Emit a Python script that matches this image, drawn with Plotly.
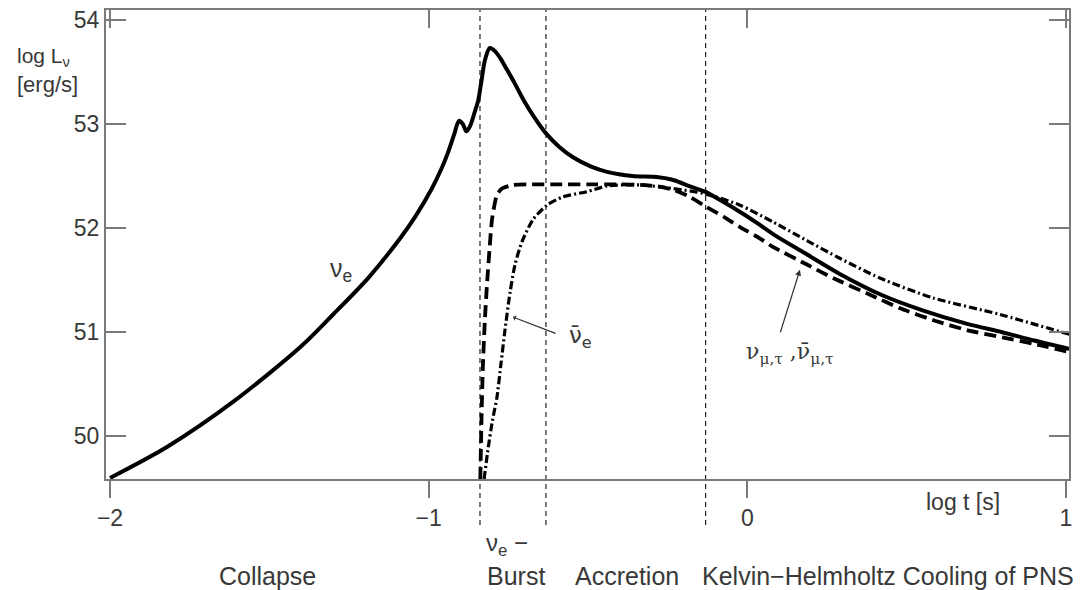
import plotly.graph_objects as go

# ---- data (log t [s], log L [erg/s]) ----
t_nue = [-2.0, -1.82, -1.61, -1.40, -1.30, -1.19, -1.09, -1.04, -0.99, -0.96, -0.94, -0.92,
         -0.905, -0.893, -0.882, -0.87, -0.855, -0.845, -0.835, -0.823, -0.808, -0.792,
         -0.775, -0.754, -0.73, -0.704, -0.67, -0.632, -0.59, -0.547, -0.49, -0.44, -0.36,
         -0.284, -0.23, -0.18, -0.133, -0.08, -0.02, 0.03, 0.087, 0.18, 0.29, 0.42, 0.55,
         0.69, 0.80, 0.90, 1.01]
L_nue = [49.60, 49.90, 50.34, 50.865, 51.17, 51.52, 51.90, 52.12, 52.38, 52.57, 52.72, 52.90,
         53.03, 53.00, 52.93, 52.98, 53.12, 53.22, 53.40, 53.62, 53.73, 53.70,
         53.63, 53.52, 53.39, 53.24, 53.07, 52.91, 52.78, 52.68, 52.59, 52.54, 52.50,
         52.49, 52.46, 52.40, 52.35, 52.26, 52.15, 52.05, 51.93, 51.76, 51.56, 51.36, 51.21,
         51.08, 51.00, 50.92, 50.84]

t_nuebar = [-0.838, -0.834, -0.830, -0.824, -0.817, -0.809, -0.801, -0.786, -0.77, -0.735,
            -0.68, -0.6, -0.5, -0.4, -0.337, -0.28, -0.233, -0.18, -0.127, -0.075, -0.023,
            0.04, 0.08, 0.187, 0.269, 0.385, 0.479, 0.589, 0.689, 0.80, 0.896, 1.01]
L_nuebar = [49.59, 50.20, 50.66, 51.10, 51.46, 51.80, 52.09, 52.32, 52.38, 52.415,
            52.42, 52.42, 52.42, 52.42, 52.415, 52.40, 52.37, 52.30, 52.20, 52.11, 52.01,
            51.90, 51.82, 51.65, 51.52, 51.36, 51.23, 51.11, 51.02, 50.95, 50.89, 50.81]

t_numu = [-0.826, -0.815, -0.80, -0.786, -0.773, -0.761, -0.745, -0.729, -0.707, -0.673,
          -0.629, -0.579, -0.503, -0.44, -0.337, -0.233, -0.133, -0.023, 0.08, 0.187, 0.29,
          0.416, 0.582, 0.793, 1.01]
L_numu = [49.59, 49.85, 50.15, 50.37, 50.70, 51.01, 51.375, 51.65, 51.87, 52.08,
          52.22, 52.30, 52.35, 52.405, 52.415, 52.38, 52.33, 52.22, 52.06, 51.88, 51.71,
          51.52, 51.33, 51.17, 50.98]

phase_bounds = [-0.839, -0.632, -0.131]
x_ticks = [-2, -1, 0, 1]
x_ticktext = ["\u22122", "\u22121", "0", "1"]
y_ticks = [50, 51, 52, 53, 54]
phase_names = ["Collapse", "Burst", "Accretion", "Kelvin\u2212Helmholtz Cooling of PNS"]
phase_label_x = [0.168, 0.4258, 0.5415, 0.812]

SANS = "Liberation Sans, Arial, sans-serif"
DSANS = "DejaVu Sans, sans-serif"
DSERIF = "DejaVu Serif, serif"
TXT = "#383838"
AX = "#7a7a7a"

fig = go.Figure()
fig.add_trace(go.Scatter(x=t_nue, y=L_nue, mode="lines",
                         line=dict(color="black", width=4.0, shape="spline", smoothing=0.8),
                         showlegend=False, hoverinfo="skip"))
fig.add_trace(go.Scatter(x=t_nuebar, y=L_nuebar, mode="lines",
                         line=dict(color="black", width=3.8, dash="12px,6px",
                                   shape="spline", smoothing=0.5),
                         showlegend=False, hoverinfo="skip"))
fig.add_trace(go.Scatter(x=t_numu, y=L_numu, mode="lines",
                         line=dict(color="black", width=3.2, dash="8px,3px,2px,3px",
                                   shape="spline", smoothing=0.7),
                         showlegend=False, hoverinfo="skip"))

for xb in phase_bounds:
    fig.add_shape(type="line", xref="x", yref="paper", x0=xb, x1=xb, y0=-0.098, y1=1,
                  line=dict(color="#222", width=1.2, dash="5px,4px"), layer="below")

ann = []
ann.append(dict(text="log L<sub>\u03bd</sub>", xref="paper", yref="paper", x=-0.0945, y=0.899,
                xanchor="left", yanchor="middle", showarrow=False,
                font=dict(family=SANS, size=21, color=TXT)))
ann.append(dict(text="[erg/s]", xref="paper", yref="paper", x=-0.0945, y=0.842,
                xanchor="left", yanchor="middle", showarrow=False,
                font=dict(family=SANS, size=22, color=TXT)))
ann.append(dict(text="log t [s]", xref="paper", yref="paper", x=0.89, y=-0.0487,
                xanchor="center", yanchor="middle", showarrow=False,
                font=dict(family=SANS, size=23, color=TXT)))
ann.append(dict(text="\u03bd<sub>e</sub>", xref="x", yref="y", x=-1.275, y=51.60,
                xanchor="center", yanchor="middle", showarrow=False,
                font=dict(family=SANS, size=25, color=TXT)))
ann.append(dict(text="\u03bd\u0304<sub>e</sub>", xref="x", yref="y", x=-0.525, y=50.95,
                xanchor="center", yanchor="middle", showarrow=False,
                font=dict(family=DSANS, size=23, color=TXT)))
ann.append(dict(text="", xref="x", yref="y", x=-0.7355, y=51.146, ax=44, ay=17,
                showarrow=True, arrowhead=1, arrowsize=0.8, arrowwidth=1.2, arrowcolor="#333"))
ann.append(dict(text="\u03bd<sub>\u03bc,\u03c4</sub> ,\u03bd\u0304<sub>\u03bc,\u03c4</sub>",
                xref="x", yref="y", x=0.134, y=50.80,
                xanchor="center", yanchor="middle", showarrow=False,
                font=dict(family=DSERIF, size=22, color=TXT)))
ann.append(dict(text="", xref="x", yref="y", x=0.165, y=51.60, ax=-20, ay=64,
                showarrow=True, arrowhead=2, arrowsize=1.0, arrowwidth=1.2, arrowcolor="#333"))
ann.append(dict(text="\u03bd<sub>e</sub> \u2212", xref="paper", yref="paper", x=0.3925, y=-0.14,
                xanchor="left", yanchor="middle", showarrow=False,
                font=dict(family=SANS, size=24, color=TXT)))
for name, px in zip(phase_names, phase_label_x):
    ann.append(dict(text=name, xref="paper", yref="paper", x=px, y=-0.2076,
                    xanchor="center", yanchor="middle", showarrow=False,
                    font=dict(family=SANS, size=25, color=TXT)))

fig.update_layout(
    width=1089, height=590,
    margin=dict(l=106, r=20, t=7, b=111),
    paper_bgcolor="white", plot_bgcolor="white",
    annotations=ann,
    xaxis=dict(range=[-2.0126, 1.0094], tickvals=x_ticks, ticktext=x_ticktext,
               ticks="outside", ticklen=17, tickwidth=1.5, tickcolor=AX,
               showline=True, linecolor=AX, linewidth=2, mirror=True,
               showgrid=False, zeroline=False,
               tickfont=dict(family=SANS, size=23, color=TXT)),
    xaxis2=dict(range=[-2.0126, 1.0094], overlaying="x", side="top", tickvals=x_ticks,
                ticks="inside", ticklen=18, tickwidth=1.5, tickcolor=AX,
                showticklabels=False, showline=False, showgrid=False, zeroline=False),
    yaxis=dict(range=[49.59, 54.095], tickvals=y_ticks,
               ticks="inside", ticklen=20, tickwidth=1.5, tickcolor=AX,
               showline=True, linecolor=AX, linewidth=2, mirror="ticks",
               showgrid=False, zeroline=False,
               tickfont=dict(family=SANS, size=23, color=TXT)),
)
fig.add_trace(go.Scatter(x=[None], y=[None], xaxis="x2", showlegend=False, hoverinfo="skip"))

fig.write_html("out.html")
